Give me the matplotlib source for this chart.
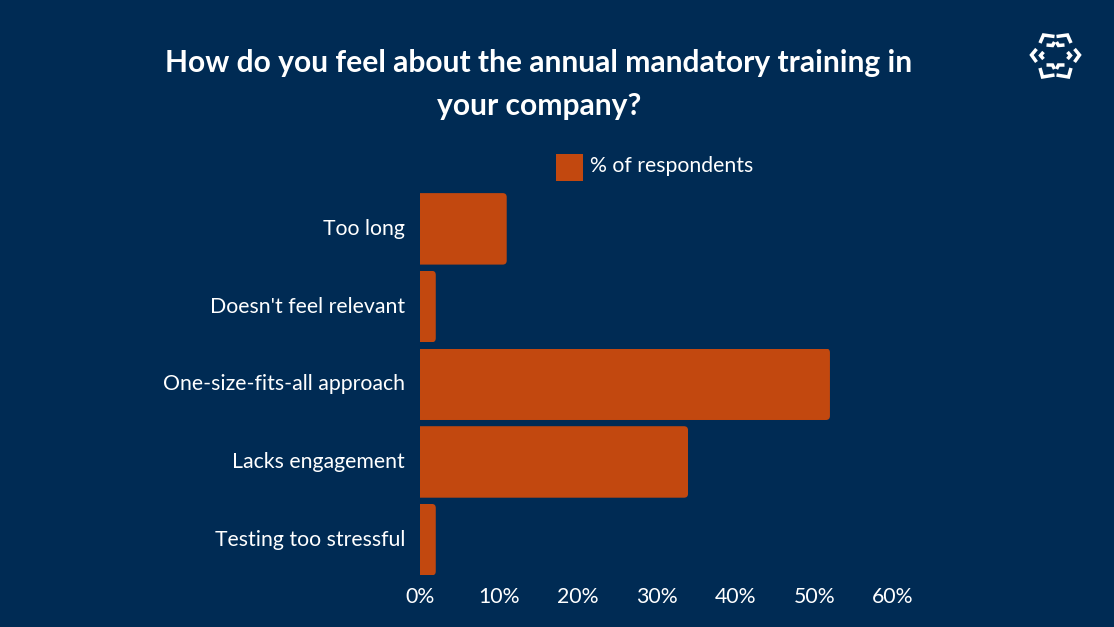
import matplotlib
matplotlib.use("Agg")
import matplotlib.pyplot as plt
from matplotlib.patches import FancyBboxPatch, Rectangle
from matplotlib.lines import Line2D
from matplotlib.transforms import IdentityTransform, ScaledTranslation

categories = ["Too long", "Doesn't feel relevant", "One-size-fits-all approach", "Lacks engagement", "Testing too stressful"]
values = [11, 2, 52, 34, 2]
xticks = [0, 10, 20, 30, 40, 50, 60]
title = "How do you feel about the annual mandatory training in\nyour company?"
legend_label = "% of respondents"
BG = "#002B54"
BAR = "#C2480F"
W, H = 1114, 627

plt.rcParams['font.family'] = ['Lato', 'DejaVu Sans']
fig = plt.figure(figsize=(W/100, H/100), dpi=100, facecolor=BG)
ax = fig.add_axes([420/W, 1-578.5/H, (893-420)/W, (578.5-190)/H], facecolor=BG)
ax.set_xlim(0, 60)
ax.set_ylim(len(values)-0.5, -0.5)
bars = ax.barh(range(len(values)), values, height=0.92, color=BAR, linewidth=0)
ax.set_yticks(range(len(values)), categories)
ax.set_xticks(xticks, [f"{v}%" for v in xticks])
ax.tick_params(length=0, colors="white", labelsize=15.3)
ax.tick_params(axis='y', pad=10.8)
ax.tick_params(axis='x', pad=5.8)
for s in ax.spines.values():
    s.set_visible(False)
for lab in ax.get_yticklabels():
    lab.set_transform(lab.get_transform() + ScaledTranslation(0, 2/100, fig.dpi_scale_trans))

# rounded right-hand corners, square left-hand corners
fig.canvas.draw()
for b in bars:
    e = b.get_window_extent()
    clip = FancyBboxPatch((e.x0 - 12, e.y0), e.width + 12, e.height,
                          boxstyle="round,pad=0,rounding_size=4",
                          transform=IdentityTransform())
    b.set_clip_path(clip)

fig.text(539/W, 1-84.5/H, title, color="white", fontsize=21.6, fontweight="bold",
         ha="center", va="center", linespacing=1.68)
fig.add_artist(Rectangle((556/W, 1-181/H), 27/W, 27/H, transform=fig.transFigure, facecolor=BAR, linewidth=0))
fig.text(589.5/W, 1-166.5/H, legend_label, color="white", fontsize=15.3, ha="left", va="center")

# logo
cx, cy = 1055.5, 55
z = [
    [(-15.5, -12), (-12, -20), (-1, -18.5)],
    [(15.5, -12), (12, -20), (1, -18.5)],
    [(-9, -10), (-3, -9.5), (-1, -13)],
    [(9, -10), (3, -9.5), (1, -13)],
    [(-19, -6), (-24, 0), (-19, 7)],
    [(19, -6), (24, 0), (19, 7)],
    [(-12, -3), (-15, 0.5), (-12, 4)],
    [(12, -3), (15, 0.5), (12, 4)],
    [(-15.5, 13), (-13, 22), (-1, 20)],
    [(15.5, 13), (13, 22), (1, 20)],
    [(-9, 10), (-3, 10), (-1, 14)],
    [(9, 10), (3, 10), (1, 14)],
]
for seg in z:
    fig.add_artist(Line2D([(cx+p[0])/W for p in seg], [1-(cy+p[1])/H for p in seg],
                          color="white", lw=2.5, transform=fig.transFigure,
                          solid_joinstyle="miter", solid_capstyle="butt"))

fig.savefig("out.png", dpi=100, facecolor=BG)
